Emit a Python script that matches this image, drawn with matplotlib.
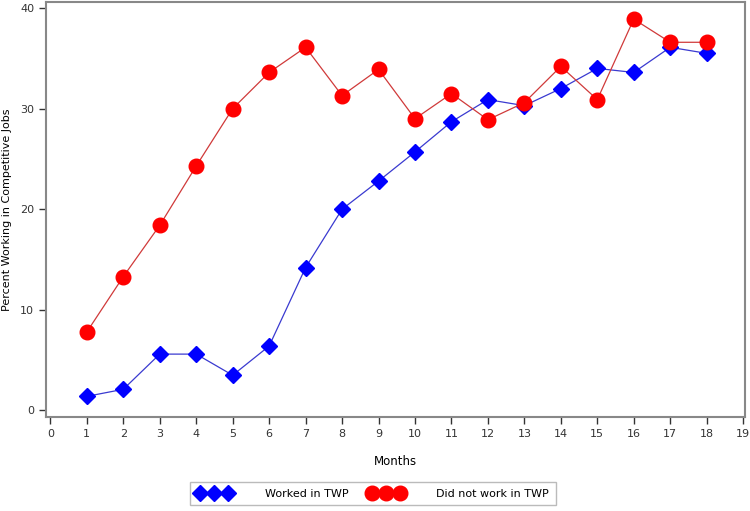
import matplotlib
matplotlib.use("Agg")
import matplotlib.pyplot as plt

months = list(range(1, 19))
worked = [1.4, 2.1, 5.6, 5.6, 3.5, 6.4, 14.2, 20.0, 22.8, 25.7, 28.7, 30.9, 30.3, 32.0, 34.0, 33.6, 36.1, 35.5]
not_worked = [7.8, 13.3, 18.4, 24.3, 30.0, 33.6, 36.1, 31.3, 33.9, 29.0, 31.5, 28.9, 30.6, 34.2, 30.9, 38.9, 36.6, 36.6]
xticks = list(range(0, 20))
yticks = [0, 10, 20, 30, 40]

fig = plt.figure(figsize=(7.5, 5.11), dpi=100)
ax = fig.add_axes([0.0613, 0.184, 0.932, 0.812])

ax.plot(months, worked, color="#3a3ad0", lw=0.9, marker="D", markersize=8,
        markerfacecolor="#0000ff", markeredgecolor="#0000ff", label="Worked in TWP", zorder=3)
ax.plot(months, not_worked, color="#d03a3a", lw=0.9, marker="o", markersize=10.5,
        markerfacecolor="#ff0000", markeredgecolor="#ff0000", label="Did not work in TWP", zorder=3)

ax.set_xlim(-0.12, 19.05)
ax.set_ylim(-0.65, 40.6)
ax.set_xticks(xticks)
ax.set_yticks(yticks)
ax.tick_params(axis="both", labelsize=8, colors="#333333", length=5, width=1, direction="out")
for s in ax.spines.values():
    s.set_color("#888888")
    s.set_linewidth(1.5)

ax.set_xlabel("Months", fontsize=8.5, labelpad=12)
ax.set_ylabel("Percent Working in Competitive Jobs", fontsize=8)
ax.yaxis.set_label_coords(-0.049, 0.5)

leg = fig.legend(loc="lower center", bbox_to_anchor=(0.4973, 0.0), ncol=2, numpoints=3,
                 fontsize=8, handlelength=3.1, handletextpad=3.0, columnspacing=1.8,
                 frameon=True, fancybox=False, edgecolor="#aaaaaa", borderpad=0.6)
leg.get_frame().set_linewidth(1.0)
for h in leg.legend_handles:
    h.set_linestyle("none")

fig.savefig("out.png", dpi=100)
